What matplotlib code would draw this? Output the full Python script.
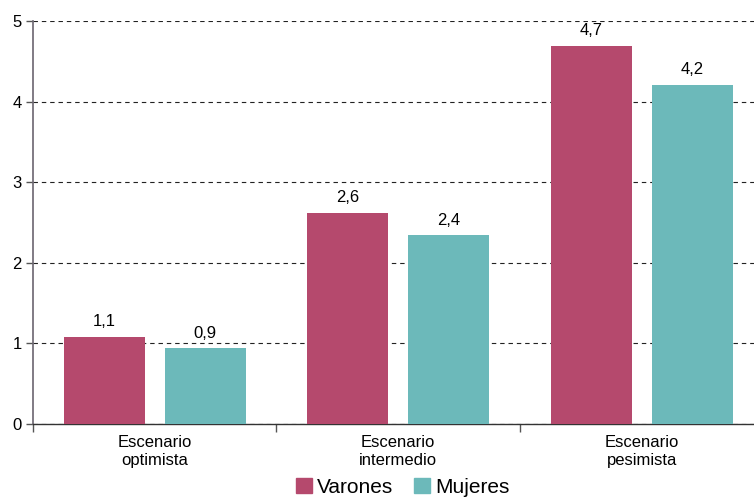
import matplotlib
matplotlib.use("Agg")
import matplotlib.pyplot as plt
from matplotlib.patches import Patch
import numpy as np

categories = ["Escenario\noptimista", "Escenario\nintermedio", "Escenario\npesimista"]
series_names = ["Varones", "Mujeres"]
varones = [1.08, 2.62, 4.69]
mujeres = [0.94, 2.34, 4.21]
varones_labels = ["1,1", "2,6", "4,7"]
mujeres_labels = ["0,9", "2,4", "4,2"]
yticks = [0, 1, 2, 3, 4, 5]

c_var = "#B5496D"
c_muj = "#6CB9BA"
plt.rcParams['font.family'] = ['Liberation Sans', 'DejaVu Sans']

fig = plt.figure(figsize=(7.54, 4.98), dpi=100)
ax = fig.add_axes([33/754, 74/498, 1 - 33/754, (424-21)/498])

x = np.arange(len(categories)) + 0.5
w = 0.333
off = 0.208
b1 = ax.bar(x - off, varones, w, color=c_var, zorder=3)
b2 = ax.bar(x + off, mujeres, w, color=c_muj, zorder=3)
for rect, lab in zip(b1, varones_labels):
    ax.annotate(lab, (rect.get_x() + rect.get_width()/2, rect.get_height()),
                xytext=(0, 5.5), textcoords="offset points", ha="center", va="bottom", fontsize=12)
for rect, lab in zip(b2, mujeres_labels):
    ax.annotate(lab, (rect.get_x() + rect.get_width()/2, rect.get_height()),
                xytext=(0, 5.5), textcoords="offset points", ha="center", va="bottom", fontsize=12)

ax.set_yticks(yticks)
ax.set_yticklabels([str(t) for t in yticks], fontsize=12)
ax.set_xticks([0, 1, 2, 3])
ax.set_xticklabels([])
ax.set_xticks(x, minor=True)
ax.set_xticklabels(categories, minor=True, fontsize=12, linespacing=1.2)
ax.set_xlim(0, 2.961)
ax.set_ylim(0, 5)
ax.tick_params(axis='x', which='minor', length=0, pad=8)
ax.tick_params(axis='x', which='major', length=6, width=1, color="#555555", direction='out')
ax.tick_params(axis='y', length=5, width=1, color="#555555", pad=3)

for s in ["top", "right"]:
    ax.spines[s].set_visible(False)
ax.spines["left"].set_color("#6B6570")
ax.spines["bottom"].set_color("#333333")
ax.spines["left"].set_linewidth(1.2)
ax.spines["bottom"].set_linewidth(1.0)

ax.yaxis.grid(True, linestyle=(0, (4, 3.5)), color="#222222", linewidth=0.8, zorder=0)
ax.set_axisbelow(True)

handles = [Patch(color=c_var, label=series_names[0]), Patch(color=c_muj, label=series_names[1])]
fig.legend(handles=handles, loc="lower center", bbox_to_anchor=(403/754, -0.035), ncol=2,
           frameon=False, fontsize=15, handlelength=0.75, handleheight=0.75,
           handletextpad=0.25, columnspacing=1.0)

fig.savefig("out.png", dpi=100)
